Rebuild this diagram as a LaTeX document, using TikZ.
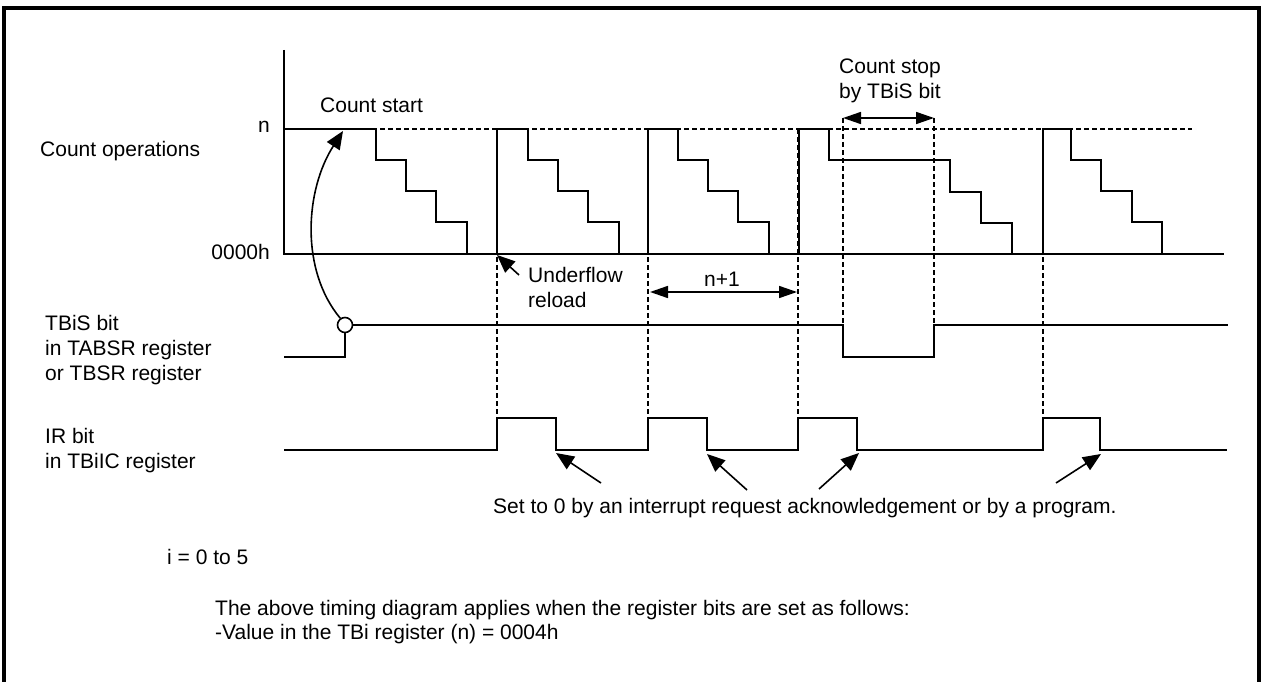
\documentclass[tikz,border=0pt]{standalone}
\usepackage{fontspec}
\setmainfont{Liberation Sans}
\usetikzlibrary{arrows.meta}
\begin{document}
\begin{tikzpicture}[x=1pt,y=-1pt,
  sig/.style={line width=1.8pt, line join=miter},
  dsh/.style={line width=1.7pt, dash pattern=on 5pt off 3pt},
  lbl/.style={inner sep=0pt, font=\fontsize{21}{25}\selectfont},
  tip/.style={-{Triangle[length=18pt,width=15pt]}, line width=1.6pt},
  dbl/.style={{Triangle[length=18pt,width=12pt]}-{Triangle[length=18pt,width=12pt]}, line width=1.6pt}]
\useasboundingbox (0,0) rectangle (1263,682);
% frame
\draw[line width=3.4pt] (4,690) -- (4,8) -- (1259,8) -- (1259,690);

% labels
\node[lbl, anchor=base west] (lco) at (40,157) {Count operations};
\node[lbl, anchor=base east] (ln) at (270,132) {n};
\node[lbl, anchor=base east] (lz) at (270,259) {0000h};
\node[lbl, anchor=base west] (lcs) at (320,113) {Count start};
\node[lbl, anchor=base west] (lst1) at (839,74) {Count stop};
\node[lbl, anchor=base west] (lst2) at (839,99) {by TBiS bit};
\node[lbl, anchor=base west] (luf1) at (528,282) {Underflow};
\node[lbl, anchor=base west] (luf2) at (528,307) {reload};
\node[lbl, anchor=base] (lnp) at (722,286) {n+1};
\node[lbl, anchor=base west] (lt1) at (45,330) {TBiS bit};
\node[lbl, anchor=base west] (lt2) at (45,355) {in TABSR register};
\node[lbl, anchor=base west] (lt3) at (45,380) {or TBSR register};
\node[lbl, anchor=base west] (li1) at (45,443) {IR bit};
\node[lbl, anchor=base west] (li2) at (45,468) {in TBiIC register};
\node[lbl, anchor=base west] (lset) at (493,513) {Set to 0 by an interrupt request acknowledgement or by a program.};
\node[lbl, anchor=base west] (lidx) at (167,564) {i = 0 to 5};
\node[lbl, anchor=base west] (lab1) at (215,615) {The above timing diagram applies when the register bits are set as follows:};
\node[lbl, anchor=base west] (lab2) at (215,639) {-Value in the TBi register (n) = 0004h};

% dashed guides
\draw[dsh] (284,129) -- (1192,129);
\foreach \x in {497,648,798,1043} \draw[dsh] (\x,129) -- (\x,418);
\draw[dsh] (843,118) -- (843,325);
\draw[dsh] (934,118) -- (934,330);

% axes
\draw[sig] (284,50) -- (284,254) -- (1224,254);

% staircases
\draw[sig] (284,129) -- (376,129) -- (376,160) -- (406,160) -- (406,191) -- (436,191) -- (436,222) -- (467,222) -- (467,254);
\draw[sig] (497,254) -- (497,129) -- (528,129) -- (528,160) -- (558,160) -- (558,191) -- (588,191) -- (588,222) -- (619,222) -- (619,254);
\draw[sig] (648,254) -- (648,129) -- (678,129) -- (678,160) -- (708,160) -- (708,191) -- (738,191) -- (738,222) -- (769,222) -- (769,254);
\draw[sig] (799,254) -- (799,129) -- (829,129) -- (829,160) -- (950,160) -- (950,192) -- (981,192) -- (981,223) -- (1012,223) -- (1012,254);
\draw[sig] (1043,254) -- (1043,129) -- (1071,129) -- (1071,160) -- (1101,160) -- (1101,191) -- (1132,191) -- (1132,222) -- (1162,222) -- (1162,254);

% TBiS signal
\node[circle, draw, line width=1.6pt, minimum size=15pt, inner sep=0pt] (cir) at (345,325) {};
\draw[sig] (284,357) -- (345,357) -- (cir.south);
\draw[sig] (cir.east) -- (843,325) -- (843,357) -- (934,357) -- (934,325) -- (1228,325);

% IR signal
\draw[sig] (284,450) -- (497,450) -- (497,418) -- (556,418) -- (556,450) -- (648,450) -- (648,418) -- (707,418) -- (707,450) -- (798,450) -- (798,418) -- (857,418) -- (857,450) -- (1043,450) -- (1043,418) -- (1100,418) -- (1100,450) -- (1227,450);

% count start arrow
\coordinate (cs) at (343,131);
\draw[tip] (cir.125) .. controls (300,270) and (305,190) .. (cs);

% underflow arrow
\coordinate (uft) at (519,275);
\coordinate (ufh) at (497,255);
\draw[tip] (uft) -- (ufh);

% n+1 arrow
\coordinate (na) at (650,292);
\coordinate (nb) at (797,292);
\draw[dbl] (na) -- (nb);

% count stop arrow
\coordinate (sa) at (843,118);
\coordinate (sb) at (934,118);
\draw[dbl] (sa) -- (sb);

% set-to-0 arrows
\coordinate (a1t) at (601,483); \coordinate (a1h) at (556,453);
\coordinate (a2t) at (747,490); \coordinate (a2h) at (707,454);
\coordinate (a3t) at (819,489); \coordinate (a3h) at (859,453);
\coordinate (a4t) at (1056,483); \coordinate (a4h) at (1101,454);
\draw[tip] (a1t) -- (a1h);
\draw[tip] (a2t) -- (a2h);
\draw[tip] (a3t) -- (a3h);
\draw[tip] (a4t) -- (a4h);
\end{tikzpicture}
\end{document}
